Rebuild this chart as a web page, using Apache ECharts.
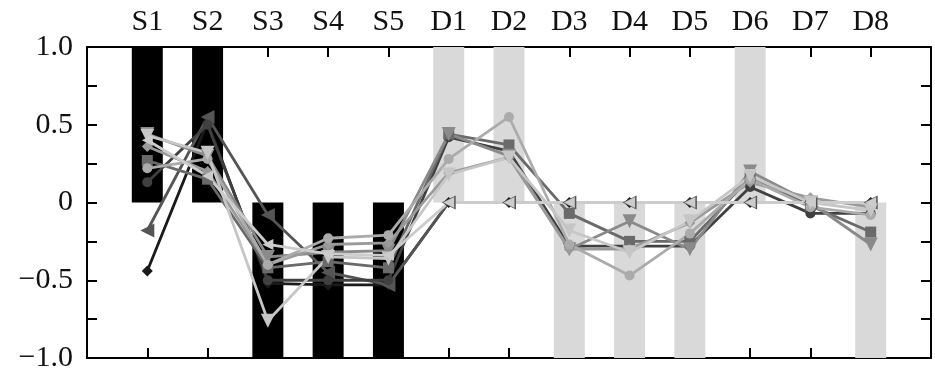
<!DOCTYPE html>
<html>
<head>
<meta charset="utf-8">
<script src="https://cdn.jsdelivr.net/npm/echarts@6/dist/echarts.min.js"></script>
<style>
  html, body { margin: 0; padding: 0; background: #fff; }
  #chart { width: 935px; height: 373px; }
</style>
</head>
<body>
<div id="chart"></div>
<script>
// 分类（顶部标签）
const categories = ['S1', 'S2', 'S3', 'S4', 'S5', 'D1', 'D2', 'D3', 'D4', 'D5', 'D6', 'D7', 'D8'];
// 背景柱：黑色 S 组，浅灰 D 组
const blackBars = [1, 1, -1, -1, -1, null, null, null, null, null, null, null, null];
const grayBars = [null, null, null, null, null, 1, 1, -1, -1, -1, 1, null, -1];
// 折线数据
const lineA = [-0.44, 0.52, -0.52, -0.53, -0.53, 0, 0, 0, 0, 0, 0, 0, 0];
const lineB = [-0.18, 0.55, -0.08, -0.45, -0.53, 0, 0, 0, 0, 0, 0, 0, 0];
const lineC1 = [0.13, 0.50, -0.50, -0.50, -0.50, 0.42, 0.33, -0.28, -0.28, -0.28, 0.10, -0.07, -0.07];
const lineC2 = [0.27, 0.15, -0.42, -0.38, -0.42, 0.44, 0.37, -0.07, -0.25, -0.25, 0.16, -0.02, -0.19];
const lineC3 = [0.44, 0.30, -0.35, -0.32, -0.31, 0.44, 0.30, -0.30, -0.12, -0.30, 0.20, 0.00, -0.27];
const lineC4 = [0.36, 0.20, -0.40, -0.27, -0.26, 0.19, 0.29, -0.30, -0.30, -0.13, 0.13, 0.03, -0.03];
const lineC5 = [0.22, 0.28, -0.40, -0.23, -0.21, 0.28, 0.55, -0.27, -0.47, -0.20, 0.15, -0.03, -0.08];
const lineC6 = [0.43, 0.32, -0.76, -0.35, -0.36, 0.18, 0.29, -0.18, -0.32, -0.12, 0.17, 0.00, -0.05];
const lineL = [0.40, 0.17, -0.27, -0.33, -0.34, 0, 0, 0, 0, 0, 0, 0, 0];
// y 轴刻度标签
const yTickLabels = { '1': '1.0', '0.5': '0.5', '0': '0', '-0.5': '\u22120.5', '-1': '\u22121.0' };

const toXY = (arr) => arr.map((v, i) => [i + 1, v]);
const serif = "'Liberation Serif', 'Times New Roman', serif";
const axisLine = { show: true, onZero: false, lineStyle: { color: '#000', width: 2 } };
const axisTick = { show: true, inside: true, length: 10, lineStyle: { color: '#000', width: 2 } };

function lineSeries(name, data, color, symbol, rotate, size) {
  return {
    name: name,
    type: 'line',
    data: toXY(data),
    symbol: symbol,
    symbolRotate: rotate,
    symbolSize: size,
    lineStyle: { color: color, width: 2.8 },
    itemStyle: { color: color },
    z: 3
  };
}

const chart = echarts.init(document.getElementById('chart'));
const option = {
  animation: false,
  backgroundColor: '#fff',
  grid: { left: 87, right: 4, top: 47, bottom: 14 },
  xAxis: [
    {
      type: 'value',
      position: 'top',
      min: 0,
      max: 14,
      interval: 1,
      axisLine: axisLine,
      axisTick: axisTick,
      axisLabel: {
        margin: 10,
        fontFamily: serif,
        fontSize: 30,
        color: '#111',
        formatter: (v) => categories[v - 1] || ''
      },
      splitLine: { show: false }
    },
    {
      type: 'value',
      position: 'bottom',
      min: 0,
      max: 14,
      interval: 1,
      axisLine: axisLine,
      axisTick: axisTick,
      axisLabel: { show: false },
      splitLine: { show: false }
    }
  ],
  yAxis: [
    {
      type: 'value',
      position: 'left',
      min: -1,
      max: 1,
      interval: 0.25,
      axisLine: axisLine,
      axisTick: axisTick,
      axisLabel: {
        margin: 14,
        fontFamily: serif,
        fontSize: 30,
        color: '#111',
        formatter: (v) => yTickLabels[String(v)] || ''
      },
      splitLine: { show: false }
    },
    {
      type: 'value',
      position: 'right',
      min: -1,
      max: 1,
      interval: 0.25,
      axisLine: axisLine,
      axisTick: axisTick,
      axisLabel: { show: false },
      splitLine: { show: false }
    }
  ],
  series: [
    {
      type: 'bar',
      data: toXY(blackBars),
      barWidth: 31,
      barGap: '-100%',
      itemStyle: { color: '#000' },
      z: 2
    },
    {
      type: 'bar',
      data: toXY(grayBars),
      barWidth: 31,
      barGap: '-100%',
      itemStyle: { color: '#d9d9d9' },
      z: 2
    },
    lineSeries('A', lineA, '#1a1a1a', 'diamond', 0, 11),
    lineSeries('B', lineB, '#555', 'triangle', 90, 14),
    lineSeries('C1', lineC1, '#404040', 'circle', 0, 10),
    lineSeries('C2', lineC2, '#6a6a6a', 'rect', 0, 11),
    lineSeries('C3', lineC3, '#8a8a8a', 'triangle', 180, 14),
    lineSeries('C4', lineC4, '#9a9a9a', 'diamond', 0, 11),
    lineSeries('C5', lineC5, '#ababab', 'circle', 0, 10),
    lineSeries('C6', lineC6, '#c6c6c6', 'triangle', 180, 14),
    lineSeries('L', lineL, '#cccccc', 'triangle', 90, 11)
  ]
};
chart.setOption(option);
</script>
</body>
</html>
